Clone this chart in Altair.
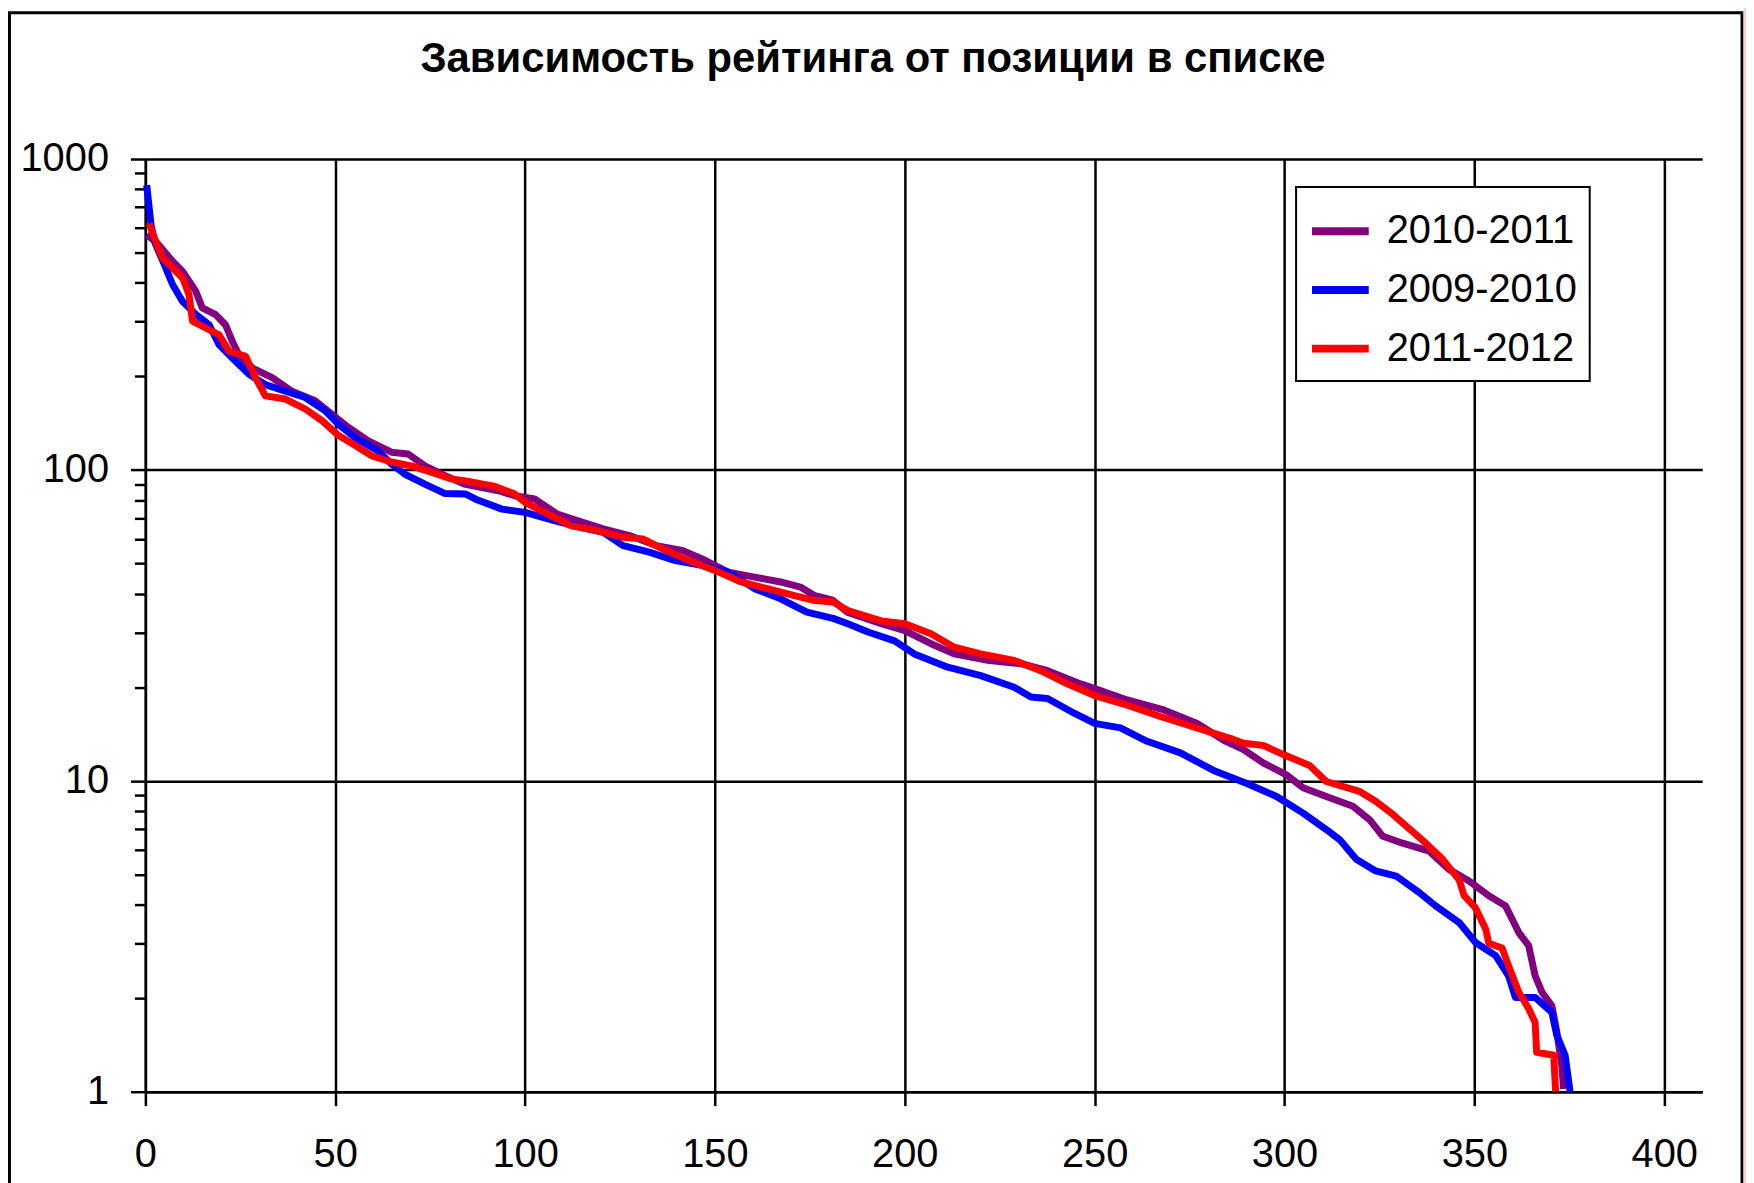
import altair as alt
import pandas as pd

title_text = "Зависимость рейтинга от позиции в списке"
series_names = ["2010-2011", "2009-2010", "2011-2012"]
series_colors = ["#800080", "#0000FF", "#FF0000"]

x_ticks = [0, 50, 100, 150, 200, 250, 300, 350, 400]
y_ticks = [1, 2, 3, 4, 5, 6, 7, 8, 9,
           10, 20, 30, 40, 50, 60, 70, 80, 90,
           100, 200, 300, 400, 500, 600, 700, 800, 900, 1000]

# 2010-2011 (purple)
x_1011 = [0.35, 2.8, 7.2, 9.8, 13.3, 15, 18.5, 21.1, 22.9, 24.6,
          28.1, 33.4, 38.6, 44.7, 49.1, 53.5, 58.7, 64.8, 69.2, 73.6,
          78.8, 84, 88, 93, 97.3, 102.5, 108.5, 113.7, 120.6, 127.5,
          134.5, 141.4, 146.5, 153.5, 160.4, 167.3, 172.5, 176.3, 181, 185,
          193.8, 200, 206.9, 213, 221.8, 230.6, 237.6, 246.3, 250, 258.6,
          268.2, 277, 284, 289.2, 294.5, 300.5, 304.9, 311, 318, 322.4,
          325.9, 331.1, 338.1, 343.3, 348.6, 353.8, 358.2, 361.7, 364.3, 366,
          367.8, 370.4, 371.7, 373, 373.5]
y_1011 = [570, 542, 468, 435, 375, 332, 316, 293, 259, 235,
          213, 198, 179, 167, 151, 137, 124, 114, 112.5, 103,
          96, 90, 88, 85.7, 82.6, 80.6, 72.1, 68.7, 64.6, 61.5,
          57.1, 55.1, 51.8, 46.9, 45.2, 43.6, 42, 39.4, 38.1, 34.8,
          32, 30.4, 27.6, 25.6, 24.4, 23.8, 22.6, 20.5, 19.8, 18.2,
          16.9, 15.3, 13.5, 12.6, 11.4, 10.45, 9.5, 8.9, 8.28, 7.5,
          6.63, 6.3, 5.94, 5.19, 4.76, 4.27, 3.96, 3.25, 2.95, 2.36,
          2.09, 1.89, 1.56, 1.22, 1.02]

# 2009-2010 (blue)
x_0910 = [0.35, 1.5, 2.4, 5, 7.2, 9.8, 13.3, 16.8, 19.4, 22.9,
          27.3, 31.6, 36.9, 42.1, 47.4, 50.9, 55.2, 61.3, 64.8, 68.3,
          73.6, 78.8, 84.4, 87.5, 93.9, 100, 107.7, 114.6, 120.6, 125.8,
          132.7, 139.6, 146.5, 153.5, 160.4, 167.3, 174.2, 181.1, 185, 190.3,
          197.3, 202.5, 211.3, 220, 228.8, 233.2, 237.6, 244.6, 250, 256.8,
          263.8, 272.6, 281.3, 290.1, 297.9, 304.9, 311, 314.5, 318.9, 324,
          329.4, 335.5, 339.8, 346, 350.3, 355.6, 359, 360.8, 366, 370.4,
          371.7, 373.9, 375.2]
y_0910 = [824, 614, 542, 457, 394, 348, 316, 293, 253, 229,
          203, 188, 179, 171, 155, 140, 127, 115, 104.5, 97,
          90, 84, 83.6, 80, 74.8, 73, 68.7, 65.3, 63, 57.1,
          54.4, 51.1, 49.3, 46.9, 41.5, 38.5, 34.9, 33.3, 32, 30.1,
          28.2, 25.6, 23.2, 21.8, 20, 18.6, 18.4, 16.5, 15.3, 14.8,
          13.4, 12.3, 10.8, 9.8, 8.9, 7.87, 6.97, 6.47, 5.59, 5.13,
          4.94, 4.37, 3.96, 3.5, 3.02, 2.74, 2.36, 2.01, 2.01, 1.8,
          1.52, 1.31, 1.0]

# 2011-2012 (red)
x_1112 = [1.05, 2.4, 4.5, 7.2, 9.8, 11.5, 12.4, 15.9, 19.4, 22,
          26.4, 29, 31.6, 36.9, 42.1, 46.5, 50.9, 55.2, 59.6, 64.8,
          70, 75.3, 80.6, 84.4, 92.1, 97.3, 100, 106, 112, 118.9,
          125.8, 131, 136.2, 143.1, 150, 156.9, 163.8, 170.7, 176.3, 181.1,
          185, 193.8, 200, 206.9, 213, 220, 228.8, 235.8, 242.8, 250,
          258.6, 267.3, 276.1, 285.7, 289.2, 294.4, 300, 306.6, 311, 319.7,
          324, 328.5, 332.9, 337.2, 341.6, 346, 347.3, 350.3, 353, 353.8,
          357.3, 359, 361.7, 364.3, 366, 366.4, 370.9, 371.4]
y_1112 = [621, 556, 480, 446, 414, 366, 301, 286, 272, 241,
          232, 198, 173, 169, 157, 144, 129, 120, 111, 106,
          103, 98.4, 93.6, 92.2, 88.5, 83.6, 78.6, 72.1, 66.2, 63.8,
          60.7, 60, 55.7, 51.1, 47.5, 43.6, 41.5, 39.5, 38, 37.6,
          35.3, 32.7, 32, 29.7, 26.9, 25.6, 24.4, 22.6, 20.5, 18.8,
          17.5, 16.1, 14.9, 13.7, 13.2, 13.0, 12.1, 11.2, 9.95, 9.25,
          8.6, 7.8, 7.0, 6.3, 5.6, 4.8, 4.27, 3.9, 3.33, 3.0,
          2.9, 2.54, 2.09, 1.85, 1.67, 1.34, 1.31, 1.0]

series_x = [x_1011, x_0910, x_1112]
series_y = [y_1011, y_0910, y_1112]

FONT = "Liberation Sans"
major_test = "datum.value == 1 || datum.value == 10 || datum.value == 100 || datum.value == 1000"

x_scale = alt.Scale(domain=[0, 410], nice=False, zero=False)
y_scale = alt.Scale(type="log", domain=[1, 1000], nice=False)
color_scale = alt.Scale(domain=series_names, range=series_colors)

x_axis = alt.Axis(
    values=x_ticks, title=None, grid=True, gridColor="black", gridWidth=2.5,
    domainColor="black", domainWidth=2.5, tickColor="black", tickWidth=2.5,
    tickSize=14, labelFont=FONT, labelFontSize=40, labelColor="black",
    labelPadding=29, labelFlush=False, labelOverlap=False,
)
y_axis = alt.Axis(
    values=y_ticks, title=None, grid=True, gridColor="black", gridWidth=2.5,
    gridOpacity={"condition": {"test": major_test, "value": 1}, "value": 0},
    tickSize={"condition": {"test": major_test, "value": 15}, "value": 11},
    domainColor="black", domainWidth=2.5, tickColor="black", tickWidth=2.5,
    labelFont=FONT, labelFontSize=40, labelColor="black", labelPadding=22,
    labelExpr="(" + major_test + ") ? datum.label : ''", format="d",
    labelFlush=False, labelOverlap=False, labelBaseline="middle",
)
legend = alt.Legend(
    title=None, orient="none", legendX=1156, legendY=28,
    symbolType="stroke", symbolStrokeWidth=8, symbolSize=3249,
    labelFont=FONT, labelFontSize=40, labelColor="black", labelOffset=14,
    labelLimit=0, strokeColor="black", fillColor="white", padding=12, rowPadding=6,
)

dummy = pd.DataFrame({"k": [0]})
frame = alt.Chart(dummy).mark_rect(
    fillOpacity=0, stroke="black", strokeWidth=3
).encode(
    x=alt.value(-136.5), x2=alt.value(1604), y=alt.value(-147), y2=alt.value(1100)
)
pink = alt.Chart(dummy).mark_rect(color="#FFCCCC").encode(
    x=alt.value(1605.5), x2=alt.value(1640), y=alt.value(-160), y2=alt.value(1100)
)

layers = [frame, pink]
for name, xs, ys in zip(series_names, series_x, series_y):
    df = pd.DataFrame({"pos": xs, "rating": ys, "season": name})
    layers.append(
        alt.Chart(df).mark_line(strokeWidth=7, strokeJoin="round").encode(
            x=alt.X("pos:Q", scale=x_scale, axis=x_axis),
            y=alt.Y("rating:Q", scale=y_scale, axis=y_axis),
            color=alt.Color("season:N", scale=color_scale, legend=legend),
            order="pos:Q",
        )
    )

chart = alt.layer(*layers).properties(
    width=1564, height=937,
    padding={"left": 138, "top": 149, "right": 44, "bottom": 89},
    autosize=alt.AutoSizeParams(type="none"),
    background="white",
    title=alt.TitleParams(
        text=title_text, font=FONT, fontSize=42, fontWeight="bold", color="black",
        anchor="middle", frame="group", baseline="alphabetic", offset=0, dx=-51, dy=115,
    ),
).configure_view(stroke="transparent").configure_legend(strokeWidth=2)

chart.save("out.html", embed_options={"renderer": "svg", "actions": False})
